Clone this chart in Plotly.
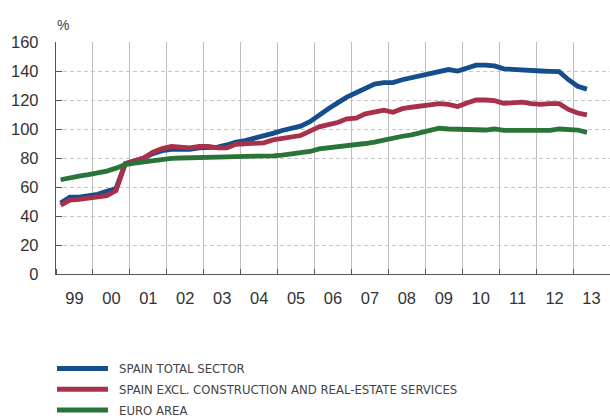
import plotly.graph_objects as go

years = list(range(1999, 2014))
quarters = [y + (q - 0.5) / 4 for y in years for q in range(1, 5)][:58]

spain_total = [
    49, 53, 53, 54,
    55, 57, 59, 76,
    78, 80, 83, 85,
    86, 86, 86, 87,
    87, 87.5, 89, 91,
    92, 93.5, 95, 97,
    99, 100.5, 102, 105,
    110, 114, 118, 122,
    125, 128, 131, 132,
    132, 134, 135.5, 137,
    138, 140, 141, 140,
    142, 144, 144, 143.5,
    141.5, 141.3, 141, 140.5,
    140, 139.7, 139.5, 134,
    129.5, 127.5,
]
spain_excl = [
    47.5, 51, 51.5, 52.5,
    53, 54, 57.5, 76,
    78, 80, 84, 86.5,
    88, 87.5, 87, 88,
    88, 87, 87, 89.5,
    90, 90.5, 90.5, 92.5,
    93.5, 94.3, 95.5, 98.5,
    101.5, 103, 104.5, 107,
    107.5, 110.5, 112, 113,
    111.5, 114, 115, 116,
    117, 117.5, 117, 115.5,
    118, 120, 120, 119.5,
    117.7, 118.2, 118.5, 117.5,
    117, 117.5, 117.5, 113.5,
    111, 109.7,
]
euro_area = [
    65, 66.5, 67.5, 68.5,
    69.5, 71, 73, 75.5,
    76.5, 77.5, 78, 79,
    79.8, 80, 80, 80.3,
    80.5, 80.7, 80.8, 81,
    81, 81, 81.2, 81.5,
    82, 82.8, 83.2, 84.5,
    86.3, 87, 87.5, 88,
    89, 90, 91, 92.5,
    93.5, 95, 96, 97.5,
    99, 100.5, 100, 99.8,
    100, 100.2, 99.3, 100,
    99, 99, 98.8, 98.6,
    98.6, 99, 100, 99.5,
    99.3, 97.7,
]

series_names = [
    "SPAIN TOTAL SECTOR",
    "SPAIN EXCL. CONSTRUCTION AND REAL-ESTATE SERVICES",
    "EURO AREA",
]
series_values = [spain_total, spain_excl, euro_area]
series_colors = ["#154e8c", "#a8304a", "#2a7438"]

year_labels = ["99", "00", "01", "02", "03", "04", "05", "06", "07", "08",
               "09", "10", "11", "12", "13"]
y_ticks = [0, 20, 40, 60, 80, 100, 120, 140, 160]

W, H = 610, 419
ML, MR, MT, MB = 56, 0, 42, 145
PW, PH = W - ML - MR, H - MT - MB


def px_x(p):
    return (p - ML) / PW


def px_y(p):
    return (H - MB - p) / PH


fig = go.Figure()
for name, vals, col in zip(series_names, series_values, series_colors):
    fig.add_trace(go.Scatter(
        x=quarters[:len(vals)], y=vals, mode="lines", name=name,
        line=dict(color=col, width=4.8), showlegend=False,
    ))

# manual legend (longer line samples like the reference)
shapes = []
annotations = []
legend_rows = [368.5, 389.3, 410]
for name, col, ry in zip(series_names, series_colors, legend_rows):
    shapes.append(dict(type="line", xref="paper", yref="paper",
                       x0=px_x(57), x1=px_x(108), y0=px_y(ry), y1=px_y(ry),
                       line=dict(color=col, width=5)))
    annotations.append(dict(
        text=name, xref="paper", yref="paper", x=px_x(117), y=px_y(ry),
        xanchor="left", yanchor="middle", showarrow=False,
        font=dict(family="DejaVu Sans Condensed, Liberation Sans Narrow, sans-serif",
                  size=13, color="#444444"),
    ))

annotations.append(dict(
    text="%", x=0, xref="paper", xanchor="left", xshift=-1,
    y=1, yref="paper", yanchor="bottom", yshift=7,
    showarrow=False,
    font=dict(family="Liberation Sans, Arial, sans-serif", size=14, color="#444444"),
))

fig.update_layout(
    width=W, height=H,
    margin=dict(l=ML, r=MR, t=MT, b=MB),
    plot_bgcolor="white", paper_bgcolor="white",
    font=dict(family="Liberation Sans, Arial, sans-serif", color="#333333"),
    showlegend=False,
    shapes=shapes,
    annotations=annotations,
)

fig.update_xaxes(
    range=[1999, 2014],
    tickvals=[y + 0.5 for y in years],
    ticktext=year_labels,
    ticks="", showgrid=False,
    tickfont=dict(family="Liberation Sans, Arial, sans-serif", size=16.5, color="#333333"),
    ticklabelstandoff=9,
    showline=True, linecolor="#555555", linewidth=1.3,
    minor=dict(tickvals=list(range(1999, 2015)), showgrid=True,
               gridcolor="#bdbdbd", gridwidth=1.2,
               ticks="inside", ticklen=5, tickcolor="#555555", tickwidth=1.2),
    zeroline=False, fixedrange=True, automargin=False,
)
fig.update_yaxes(
    range=[0, 160],
    tickvals=y_ticks,
    ticks="inside", ticklen=6, tickcolor="#555555", tickwidth=1.2,
    tickfont=dict(family="Liberation Sans, Arial, sans-serif", size=16.5, color="#333333"),
    ticklabelstandoff=13,
    showgrid=True, gridcolor="#c6c6c6", griddash="4px,3px", gridwidth=1.2,
    showline=True, linecolor="#555555", linewidth=1.3,
    zeroline=False, fixedrange=True, automargin=False,
)

fig.write_html(
    "out.html",
    config={"displayModeBar": False},
    post_script="document.body.style.margin='0';document.body.style.overflow='hidden';",
)
